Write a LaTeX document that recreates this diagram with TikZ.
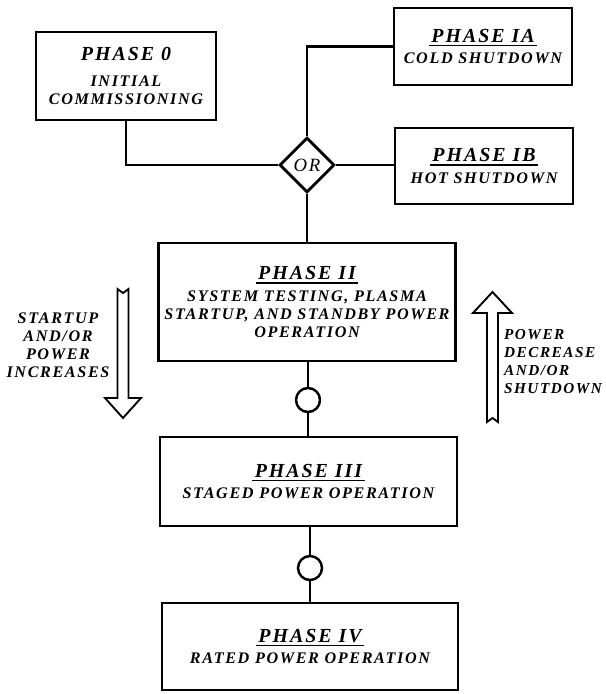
\documentclass[tikz,border=0pt]{standalone}
\usepackage{fontspec}
\setmainfont{Liberation Serif}
\newfontfamily\lettering[LetterSpace=10]{Liberation Serif}
\usetikzlibrary{shapes.geometric}
% heading of a phase box, and its rule
\newcommand\phasehead[1]{{\fontsize{17}{19}\selectfont #1}}
\newcommand\headrule[1]{\setbox0=\hbox{#1}\rlap{\kern-2pt\rule[-3.5pt]{\dimexpr\wd0+4pt\relax}{1.2pt}}\box0}
\begin{document}
\begin{tikzpicture}[x=0.03cm,y=-0.03cm,
  phase/.style={draw,line width=2.4pt,align=center,inner sep=0pt,
    font=\lettering\bfseries\itshape\fontsize{13.8}{15.5}\selectfont},
  link/.style={line width=2.1pt},
  gate/.style={draw,diamond,line width=2.4pt,minimum width=1.65cm,minimum height=1.65cm,
    inner sep=0pt,font=\lettering\itshape\fontsize{16}{18}\selectfont},
  hold/.style={draw,circle,line width=2.1pt,minimum size=0.72cm,inner sep=0pt},
  hollow/.style={line width=1.6pt,line join=miter},
  side/.style={font=\lettering\bfseries\itshape\fontsize{13.8}{15.5}\selectfont}]
\useasboundingbox (0,0) rectangle (605,694);
% phase boxes
\node[phase,minimum width=5.4cm,minimum height=2.64cm] (p0) at (126,76)
  {\phasehead{PHASE 0}\\[6pt] INITIAL\\COMMISSIONING};
\node[phase,minimum width=5.34cm,minimum height=2.31cm] (p1a) at (483,46.5)
  {\phasehead{\headrule{PHASE IA}}\\[3pt] COLD SHUTDOWN};
\node[phase,minimum width=5.34cm,minimum height=2.28cm] (p1b) at (484,166)
  {\phasehead{\headrule{PHASE IB}}\\[3pt] HOT SHUTDOWN};
\node[phase,minimum width=8.91cm,minimum height=3.54cm] (p2) at (307,302)
  {\phasehead{\headrule{PHASE II}}\\[3pt] SYSTEM TESTING, PLASMA\\STARTUP, AND STANDBY POWER\\OPERATION};
\node[phase,minimum width=8.91cm,minimum height=2.67cm] (p3) at (308.5,481.5)
  {\phasehead{\headrule{PHASE III}}\\[3pt] STAGED POWER OPERATION};
\node[phase,minimum width=8.88cm,minimum height=2.61cm] (p4) at (310,646.5)
  {\phasehead{\headrule{PHASE IV}}\\[3pt] RATED POWER OPERATION};
% or gate and hold points
\node[gate] (or) at (307,165) {OR};
\node[hold] (c1) at (308,400) {};
\node[hold] (c2) at (310,568) {};
% connections
\draw[link] (p0.south) |- (or.west);
\draw[link] (or.north) |- (p1a.west);
\draw[link] (or.east) -- (or.east -| p1b.west);
\draw[link] (or.south) -- (or.south |- p2.north);
\draw[link] (c1.north) -- (c1 |- p2.south);
\draw[link] (c1.south) -- (c1 |- p3.north);
\draw[link] (c2.north) -- (c2 |- p3.south);
\draw[link] (c2.south) -- (c2 |- p4.north);
% direction arrows
\draw[hollow] (117.5,289) -- (123,293) -- (128.5,289) -- (128.5,398) -- (141,398)
  -- (123,418) -- (105,398) -- (117.5,398) -- cycle;
\draw[hollow] (487,422) -- (492.5,418) -- (498,422) -- (498,313) -- (512,313)
  -- (492.5,292) -- (473,313) -- (487,313) -- cycle;
\node[side,align=center] (up) at (58,345) {STARTUP\\AND/OR\\POWER\\INCREASES};
\node[side,align=left,anchor=west,font=\lettering\bfseries\itshape\fontsize{13}{15.5}\selectfont]
  (down) at (500,361.5) {POWER\\DECREASE\\AND/OR\\SHUTDOWN};
\end{tikzpicture}
\end{document}
